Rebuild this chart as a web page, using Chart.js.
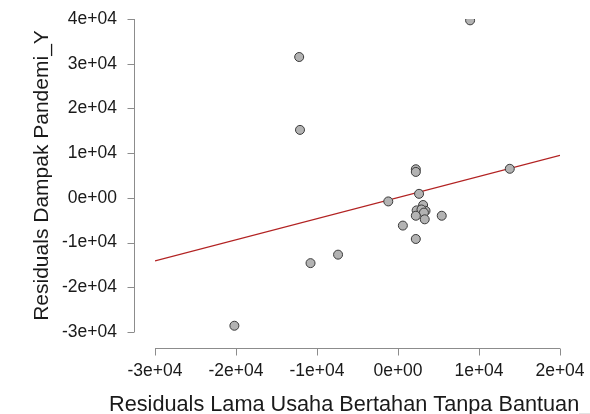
<!DOCTYPE html>
<html>
<head>
<meta charset="utf-8">
<script src="https://cdn.jsdelivr.net/npm/chart.js@4"></script>
<style>
  html, body { margin: 0; padding: 0; background: #fff; }
  #wrap { width: 590px; height: 414px; }
</style>
</head>
<body>
<div id="wrap"><canvas id="avPlot" width="590" height="414"></canvas></div>
<script>
// residuals
const xResid = [8900, -12200, -12100, 2200, 2200, 13800, 2600, -1200, 3100, 2300,
                3400, 2900, 3200, 2200, 3300, 5400, 600, 2200, -7400, -10800, -20200];
const yResid = [39700, 31500, 15200, 6400, 5800, 6500, 900, -800, -1600, -2800,
                -2900, -2600, -3300, -4000, -4800, -4000, -6200, -9200, -12700, -14600, -28600];

// fitted line end points
const fitX = [-30000, 20000];
const fitY = [-14100, 9500];

// axis ticks
const xTicks = [-30000, -20000, -10000, 0, 10000, 20000];
const yTicks = [-30000, -20000, -10000, 0, 10000, 20000, 30000, 40000];

const xTitle = 'Residuals Lama Usaha Bertahan Tanpa Bantuan_';
const yTitle = 'Residuals Dampak Pandemi_Y';

const fontFam = '"Liberation Sans", Arial, sans-serif';

function sciLabel(v) {
    if (v === 0) return '0e+00';
    const s = v.toExponential(0); // e.g. "3e+4"
    const [m, e] = s.split('e');
    const sign = e[0];
    const digits = e.slice(1).padStart(2, '0');
    return m + 'e' + sign + digits;
}

// R-style detached axes plus x title
const rAxes = {
    id: 'rAxes',
    afterDraw(chart) {
        const ctx = chart.ctx;
        const xs = chart.scales.x, ys = chart.scales.y;
        const area = chart.chartArea;
        ctx.save();
        ctx.strokeStyle = '#8c8c8c';
        ctx.lineWidth = 1;

        const yLine = area.bottom + 16.5;
        ctx.beginPath();
        ctx.moveTo(xs.getPixelForValue(xTicks[0]), yLine);
        ctx.lineTo(xs.getPixelForValue(xTicks[xTicks.length - 1]), yLine);
        xTicks.forEach(t => {
            const px = Math.round(xs.getPixelForValue(t)) + 0.5;
            ctx.moveTo(px, yLine);
            ctx.lineTo(px, yLine + 7);
        });
        ctx.stroke();

        const xLine = area.left - 20.5;
        ctx.beginPath();
        ctx.moveTo(xLine, ys.getPixelForValue(yTicks[0]));
        ctx.lineTo(xLine, ys.getPixelForValue(yTicks[yTicks.length - 1]));
        yTicks.forEach(t => {
            const py = Math.round(ys.getPixelForValue(t)) + 0.5;
            ctx.moveTo(xLine, py);
            ctx.lineTo(xLine - 7, py);
        });
        ctx.stroke();

        ctx.fillStyle = '#1a1a1a';
        ctx.font = '21.7px ' + fontFam;
        ctx.textAlign = 'left';
        ctx.textBaseline = 'alphabetic';
        ctx.fillText(xTitle, 109, 411);
        ctx.restore();
    }
};

const chart = new Chart(document.getElementById('avPlot'), {
    type: 'scatter',
    data: {
        datasets: [
            {
                label: 'residuals',
                data: xResid.map((x, i) => ({ x: x, y: yResid[i] })),
                backgroundColor: '#b3b3b3',
                borderColor: '#3a3a3a',
                borderWidth: 1,
                pointRadius: 4.5,
                order: 0
            },
            {
                label: 'fit',
                type: 'line',
                data: fitX.map((x, i) => ({ x: x, y: fitY[i] })),
                borderColor: '#b22222',
                borderWidth: 1.3,
                pointRadius: 0,
                fill: false,
                order: 1
            }
        ]
    },
    options: {
        responsive: false,
        animation: false,
        devicePixelRatio: 1,
        layout: { padding: { top: 19, right: 30, left: 0, bottom: 0 } },
        plugins: {
            legend: { display: false },
            tooltip: { enabled: false }
        },
        scales: {
            x: {
                type: 'linear',
                min: -30000,
                max: 20000,
                afterFit: s => {
                    s.height = 82;
                    s.paddingLeft = 0; s.paddingRight = 0;
                },
                afterBuildTicks: s => { s.ticks = xTicks.map(v => ({ value: v })); },
                grid: { display: false, drawTicks: false },
                border: { display: false },
                ticks: {
                    padding: 29,
                    autoSkip: false,
                    maxRotation: 0,
                    color: '#1a1a1a',
                    font: { family: fontFam, size: 17.5 },
                    callback: v => sciLabel(v)
                }
            },
            y: {
                type: 'linear',
                min: -30000,
                max: 40000,
                afterFit: s => {
                    s.width = 155;
                    s.paddingTop = 0; s.paddingBottom = 0;
                },
                afterBuildTicks: s => { s.ticks = yTicks.map(v => ({ value: v })); },
                grid: { display: false, drawTicks: false },
                border: { display: false },
                title: {
                    display: true,
                    text: yTitle,
                    color: '#1a1a1a',
                    font: { family: fontFam, size: 21 },
                    padding: { top: 30, bottom: 0 }
                },
                ticks: {
                    padding: 38,
                    autoSkip: false,
                    color: '#1a1a1a',
                    font: { family: fontFam, size: 17.5 },
                    callback: v => sciLabel(v)
                }
            }
        }
    },
    plugins: [rAxes]
});
</script>
</body>
</html>
